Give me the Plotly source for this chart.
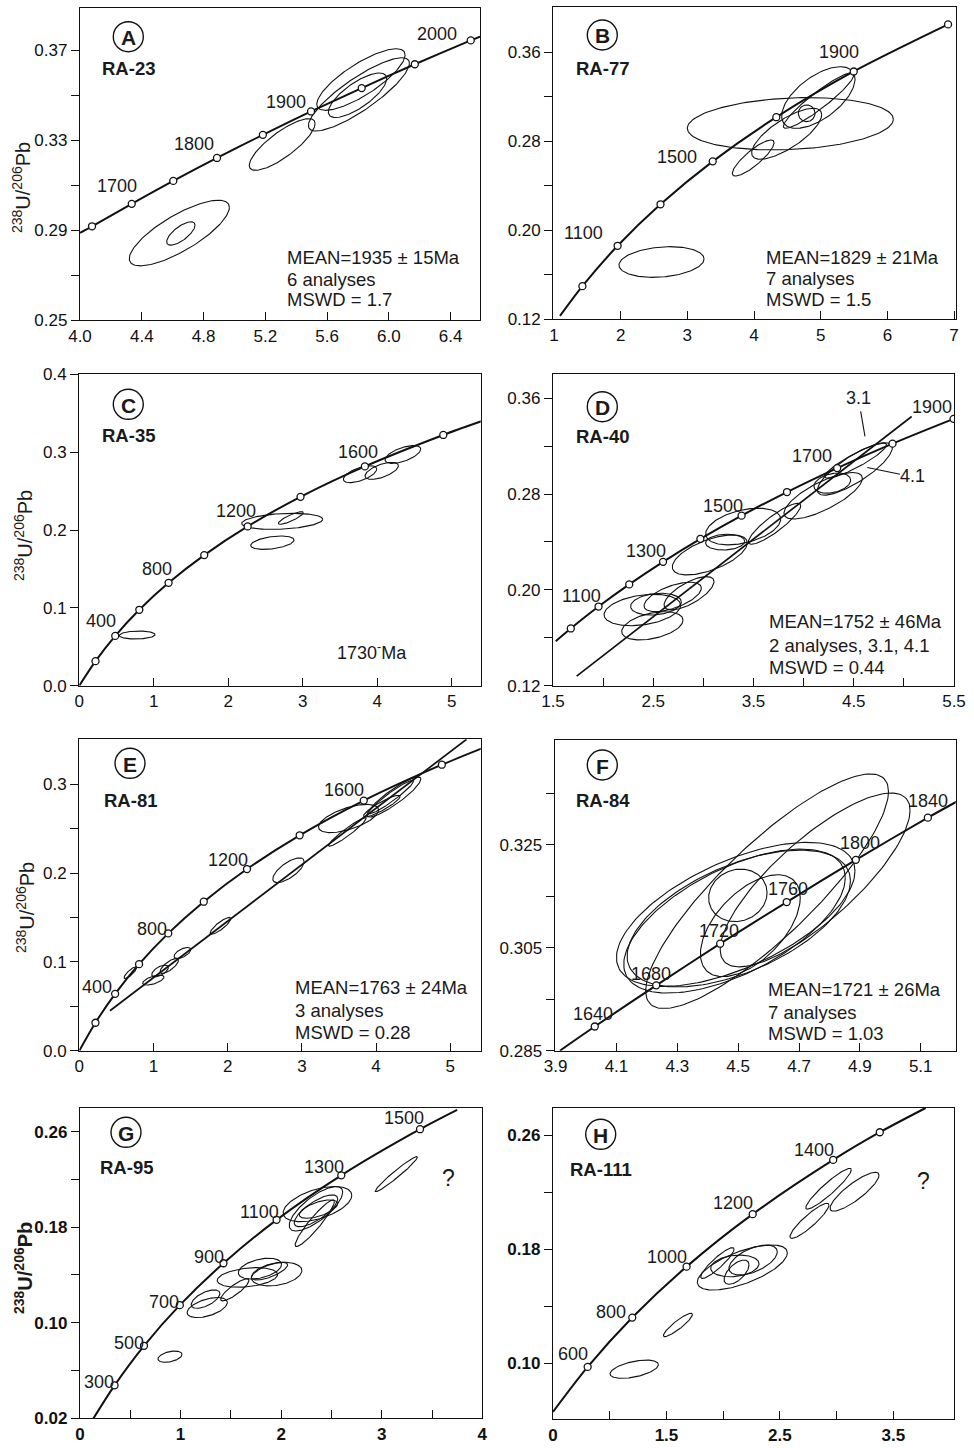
import numpy as np
import plotly.graph_objects as go

W, H = 974, 1448
FONT = "Liberation Sans, Arial, sans-serif"

# ---------------- DATA ----------------
# Concordia age marks (207Pb/235U, 206Pb/238U)
A_age = [1650, 1700, 1750, 1800, 1850, 1900, 1950, 2000, 2050]
A_cx = [4.078, 4.335, 4.604, 4.887, 5.184, 5.496, 5.824, 6.168, 6.530]
A_cy = [0.2917, 0.3017, 0.3119, 0.3221, 0.3324, 0.3428, 0.3532, 0.3638, 0.3744]
A_end = [(4.0, 0.2888), (6.59, 0.3761)]

B_age = [900, 1100, 1300, 1500, 1700, 1900, 2100]
B_cx = [1.4264, 1.9545, 2.5978, 3.3810, 4.3346, 5.4959, 6.9104]
B_cy = [0.1498, 0.1861, 0.2234, 0.2620, 0.3017, 0.3428, 0.3851]
B_end = [(1.09, 0.1230), (6.9104, 0.3851)]

C_age = [200, 400, 600, 800, 1000, 1200, 1400, 1600, 1800]
C_cx = [0.2177, 0.4828, 0.8056, 1.1987, 1.6774, 2.2603, 2.9700, 3.8341, 4.8867]
C_cy = [0.0315, 0.0640, 0.0975, 0.1321, 0.1678, 0.2046, 0.2426, 0.2817, 0.3221]
C_end = [(0.0, 0.0), (5.40, 0.3397)]

D_age = [1000, 1100, 1200, 1300, 1400, 1500, 1600, 1700, 1800, 1900]
D_cx = [1.6774, 1.9545, 2.2603, 2.5978, 2.9700, 3.3810, 3.8341, 4.3346, 4.8867, 5.4959]
D_cy = [0.1678, 0.1861, 0.2046, 0.2234, 0.2426, 0.2620, 0.2817, 0.3017, 0.3221, 0.3428]
D_end = [(1.527, 0.1572), (5.52, 0.3436)]
D_disc = [(1.736, 0.128), (5.078, 0.3448)]

E_age = [200, 400, 600, 800, 1000, 1200, 1400, 1600, 1800]
E_cx = [0.2177, 0.4828, 0.8056, 1.1987, 1.6774, 2.2603, 2.9700, 3.8341, 4.8867]
E_cy = [0.0315, 0.0640, 0.0975, 0.1321, 0.1678, 0.2046, 0.2426, 0.2817, 0.3221]
E_end = [(0.0, 0.0), (5.45, 0.3413)]
E_disc = [(0.413, 0.045), (5.22, 0.3507)]

F_age = [1640, 1680, 1720, 1760, 1800, 1840]
F_cx = [4.0287, 4.2307, 4.4409, 4.6596, 4.8867, 5.1235]
F_cy = [0.2897, 0.2977, 0.3058, 0.3139, 0.3221, 0.3303]
F_end = [(3.914, 0.2850), (5.23, 0.3338)]

G_age = [300, 500, 700, 900, 1100, 1300, 1500]
G_cx = [0.3437, 0.6363, 0.9925, 1.4264, 1.9545, 2.5978, 3.3810]
G_cy = [0.0476, 0.0807, 0.1147, 0.1498, 0.1861, 0.2234, 0.2620]
G_end = [(0.134, 0.0200), (3.75, 0.2782)]

H_age = [600, 800, 1000, 1200, 1400, 1500]
H_cx = [0.8056, 1.1987, 1.6774, 2.2603, 2.9700, 3.3810]
H_cy = [0.0975, 0.1321, 0.1678, 0.2046, 0.2426, 0.2620]
H_end = [(0.5, 0.0660), (3.785, 0.2790)]

# Error ellipses: (x centre, y centre, x half-width, y half-height, correlation)
A_ell = [(4.643, 0.2887, 0.324, 0.0146, 0.78), (4.653, 0.2885, 0.092, 0.0052, 0.71),
         (5.309, 0.3281, 0.213, 0.0115, 0.81), (5.819, 0.3570, 0.286, 0.0137, 0.80),
         (5.806, 0.3504, 0.327, 0.0163, 0.85), (5.797, 0.3500, 0.189, 0.0099, 0.75)]
B_ell = [(2.613, 0.1715, 0.638, 0.0138, 0.20), (4.545, 0.2958, 1.545, 0.0235, 0.17),
         (3.988, 0.2650, 0.313, 0.0162, 0.85), (4.490, 0.2868, 0.525, 0.0229, 0.75),
         (4.965, 0.3194, 0.550, 0.0277, 0.60), (4.970, 0.3167, 0.530, 0.0250, 0.93),
         (4.790, 0.3052, 0.125, 0.0075, 0.00)]
C_ell = [(0.777, 0.0651, 0.240, 0.0051, 0.10), (2.724, 0.2111, 0.544, 0.0103, 0.25),
         (2.840, 0.2154, 0.168, 0.0081, 0.85), (2.592, 0.1837, 0.291, 0.0086, 0.40),
         (3.769, 0.2717, 0.224, 0.0109, 0.60), (4.060, 0.2760, 0.224, 0.0109, 0.60),
         (4.344, 0.2970, 0.240, 0.0114, 0.60)]
D_ell = [(4.511, 0.3010, 0.374, 0.0219, 0.81), (4.519, 0.3079, 0.308, 0.0146, 0.90),
         (4.195, 0.2786, 0.391, 0.0194, 0.75), (4.286, 0.2891, 0.183, 0.0084, 0.30),
         (3.710, 0.2552, 0.261, 0.0171, 0.88), (3.397, 0.2529, 0.374, 0.0153, 0.40),
         (3.217, 0.2399, 0.195, 0.0066, 0.10), (3.064, 0.2292, 0.374, 0.0167, 0.60),
         (2.391, 0.1832, 0.382, 0.0131, 0.30), (2.491, 0.1700, 0.306, 0.0118, 0.40),
         (2.527, 0.1881, 0.253, 0.0091, 0.20), (2.857, 0.1972, 0.249, 0.0139, 0.70),
         (2.694, 0.1941, 0.286, 0.0123, 0.60)]
E_ell = [(0.688, 0.0879, 0.085, 0.0066, 0.85), (0.998, 0.0795, 0.144, 0.0056, 0.60),
         (1.088, 0.0898, 0.112, 0.0066, 0.60), (1.212, 0.0954, 0.124, 0.0084, 0.75),
         (1.389, 0.1100, 0.112, 0.0062, 0.60), (1.902, 0.1406, 0.139, 0.0094, 0.85),
         (2.819, 0.2032, 0.211, 0.0139, 0.70), (3.629, 0.2615, 0.405, 0.0159, 0.60),
         (3.613, 0.2463, 0.254, 0.0161, 0.95), (4.240, 0.2857, 0.364, 0.0225, 0.90),
         (4.202, 0.2857, 0.304, 0.0188, 0.95), (4.078, 0.2754, 0.247, 0.0122, 0.90)]
F_ell = [(4.595, 0.3160, 0.399, 0.0228, 0.85), (4.753, 0.3182, 0.312, 0.0169, 0.80),
         (4.492, 0.3115, 0.392, 0.0140, 0.60), (4.488, 0.3102, 0.364, 0.0140, 0.60),
         (4.502, 0.3107, 0.367, 0.0133, 0.55), (4.499, 0.3152, 0.096, 0.0051, 0.10),
         (4.540, 0.3093, 0.164, 0.0099, 0.55)]
G_ell = [(0.895, 0.0716, 0.120, 0.0047, 0.40), (1.265, 0.1127, 0.200, 0.0084, 0.50),
         (1.248, 0.1198, 0.143, 0.0077, 0.60), (1.539, 0.1275, 0.141, 0.0092, 0.85),
         (1.664, 0.1379, 0.300, 0.0082, 0.30), (1.789, 0.1453, 0.215, 0.0087, 0.40),
         (1.955, 0.1407, 0.251, 0.0099, 0.30), (1.884, 0.1432, 0.180, 0.0074, 0.70),
         (2.361, 0.1993, 0.341, 0.0147, 0.50), (2.346, 0.1954, 0.266, 0.0186, 0.75),
         (2.346, 0.1937, 0.216, 0.0133, 0.75), (2.371, 0.1951, 0.191, 0.0077, 0.60),
         (2.334, 0.1833, 0.195, 0.0195, 0.93), (3.145, 0.2244, 0.210, 0.0147, 0.97)]
H_ell = [(1.216, 0.0959, 0.213, 0.0064, 0.50), (1.601, 0.1269, 0.128, 0.0082, 0.90),
         (2.169, 0.1672, 0.397, 0.0158, 0.65), (1.949, 0.1703, 0.147, 0.0108, 0.90),
         (2.103, 0.1683, 0.213, 0.0076, 0.20), (2.118, 0.1639, 0.110, 0.0085, 0.60),
         (2.264, 0.1724, 0.213, 0.0105, 0.55), (2.761, 0.1999, 0.172, 0.0123, 0.90),
         (2.929, 0.2224, 0.201, 0.0143, 0.93), (3.158, 0.2203, 0.216, 0.0136, 0.85)]

# Age labels shown on the concordia
A_lab = ["1700", "1800", "1900", "2000"]
B_lab = ["1100", "1500", "1900"]
C_lab = ["400", "800", "1200", "1600"]
D_lab = ["1100", "1300", "1500", "1700", "1900"]
E_lab = ["400", "800", "1200", "1600"]
F_lab = ["1640", "1680", "1720", "1760", "1800", "1840"]
G_lab = ["300", "500", "700", "900", "1100", "1300", "1500"]
H_lab = ["600", "800", "1000", "1200", "1400"]

SAMPLES = ["RA-23", "RA-77", "RA-35", "RA-40", "RA-81", "RA-84", "RA-95", "RA-111"]
LETTERS = ["A", "B", "C", "D", "E", "F", "G", "H"]
A_stats = ["MEAN=1935 ± 15Ma", "6 analyses", "MSWD = 1.7"]
B_stats = ["MEAN=1829 ± 21Ma", "7 analyses", "MSWD = 1.5"]
D_stats = ["MEAN=1752 ± 46Ma", "2 analyses, 3.1, 4.1", "MSWD = 0.44"]
E_stats = ["MEAN=1763 ± 24Ma", "3 analyses", "MSWD = 0.28"]
F_stats = ["MEAN=1721 ± 26Ma", "7 analyses", "MSWD = 1.03"]

# axis ticks: (labelled values, label text, unlabelled minor values)
A_xt = ([4.0, 4.4, 4.8, 5.2, 5.6, 6.0, 6.4], ["4.0", "4.4", "4.8", "5.2", "5.6", "6.0", "6.4"], [])
B_xt = ([1, 2, 3, 4, 5, 6, 7], ["1", "2", "3", "4", "5", "6", "7"], [])
C_xt = ([0, 1, 2, 3, 4, 5], ["0", "1", "2", "3", "4", "5"], [])
D_xt = ([1.5, 2.5, 3.5, 4.5, 5.5], ["1.5", "2.5", "3.5", "4.5", "5.5"], [2.0, 3.0, 4.0, 5.0])
E_xt = ([0, 1, 2, 3, 4, 5], ["0", "1", "2", "3", "4", "5"], [])
F_xt = ([3.9, 4.1, 4.3, 4.5, 4.7, 4.9, 5.1], ["3.9", "4.1", "4.3", "4.5", "4.7", "4.9", "5.1"], [])
G_xt = ([0, 1, 2, 3, 4], ["0", "1", "2", "3", "4"], [0.5, 1.5, 2.5, 3.5])
H_xt = ([0.5, 1.5, 2.5, 3.5], ["0", "1.5", "2.5", "3.5"], [1.0, 2.0, 3.0])
A_yt = ([0.25, 0.29, 0.33, 0.37], ["0.25", "0.29", "0.33", "0.37"], [0.27, 0.31, 0.35])
B_yt = ([0.12, 0.20, 0.28, 0.36], ["0.12", "0.20", "0.28", "0.36"], [0.16, 0.24, 0.32])
C_yt = ([0, 0.1, 0.2, 0.3, 0.4], ["0.0", "0.1", "0.2", "0.3", "0.4"], [])
D_yt = ([0.12, 0.20, 0.28, 0.36], ["0.12", "0.20", "0.28", "0.36"], [0.16, 0.24, 0.32])
E_yt = ([0, 0.1, 0.2, 0.3], ["0.0", "0.1", "0.2", "0.3"], [0.05, 0.15, 0.25])
F_yt = ([0.285, 0.305, 0.325], ["0.285", "0.305", "0.325"], [0.295, 0.315, 0.335])
G_yt = ([0.02, 0.10, 0.18, 0.26], ["0.02", "0.10", "0.18", "0.26"], [0.06, 0.14, 0.22])
H_yt = ([0.10, 0.18, 0.26], ["0.10", "0.18", "0.26"], [0.14, 0.22])

# ---------------- FIGURE ----------------
fig = go.Figure()

def px2paper(x, y):
    return x / W, 1 - y / H

def ids(i):
    return ("x" if i == 1 else f"x{i}"), ("y" if i == 1 else f"y{i}")

def ellipse(e):
    cx, cy, sx, sy, r = e
    t = np.linspace(0, 2 * np.pi, 160)
    return cx + sx * np.cos(t), cy + sy * (r * np.cos(t) + np.sqrt(1 - r * r) * np.sin(t))

panels = [
    (A_cx, A_cy, A_end, A_ell, None),
    (B_cx, B_cy, B_end, B_ell, None),
    (C_cx, C_cy, C_end, C_ell, None),
    (D_cx, D_cy, D_end, D_ell, D_disc),
    (E_cx, E_cy, E_end, E_ell, E_disc),
    (F_cx, F_cy, F_end, F_ell, None),
    (G_cx, G_cy, G_end, G_ell, None),
    (H_cx, H_cy, H_end, H_ell, None),
]

for i, (cx, cy, end, ells, disc) in enumerate(panels, start=1):
    xa, ya = ids(i)
    for e in ells:
        ex, ey = ellipse(e)
        fig.add_trace(go.Scatter(x=ex, y=ey, mode="lines", xaxis=xa, yaxis=ya,
                                 line=dict(color="#111", width=1.1), hoverinfo="skip",
                                 showlegend=False))
    if disc:
        fig.add_trace(go.Scatter(x=[p[0] for p in disc], y=[p[1] for p in disc], mode="lines",
                                 xaxis=xa, yaxis=ya, line=dict(color="#111", width=1.7),
                                 hoverinfo="skip", showlegend=False))
    lx = [end[0][0]] + list(cx) + [end[1][0]]
    ly = [end[0][1]] + list(cy) + [end[1][1]]
    fig.add_trace(go.Scatter(x=lx, y=ly, mode="lines", xaxis=xa, yaxis=ya,
                             line=dict(color="#111", width=2.0, shape="spline", smoothing=0.8),
                             hoverinfo="skip", showlegend=False))
    fig.add_trace(go.Scatter(x=cx, y=cy, mode="markers", xaxis=xa, yaxis=ya,
                             marker=dict(symbol="circle", size=7, color="white",
                                         line=dict(color="#111", width=1.3)),
                             hoverinfo="skip", showlegend=False))

# panel frames in pixels: (left, top, right, bottom)
boxes = [(80, 8.3, 480, 320), (553.3, 7.3, 955.7, 319.3),
         (79.3, 374.3, 480.7, 685.7), (553, 374.3, 954, 685.7),
         (79.3, 739.3, 480.7, 1050.7), (554.7, 740, 955.7, 1050.7),
         (80, 1107.7, 482.3, 1418.3), (553, 1107.7, 954, 1419)]

xr = [[4.0, 6.59], [0.99, 7.025], [0, 5.389], [1.5, 5.5], [0, 5.41], [3.897, 5.215], [0, 4.0], [0.5, 4.035]]
yr = [[0.25, 0.3887], [0.12, 0.4005], [0, 0.4], [0.12, 0.38], [0, 0.3507], [0.285, 0.3454], [0.02, 0.28], [0.061, 0.2792]]
xts = [A_xt, B_xt, C_xt, D_xt, E_xt, F_xt, G_xt, H_xt]
yts = [A_yt, B_yt, C_yt, D_yt, E_yt, F_yt, G_yt, H_yt]

layout = dict(width=W, height=H, margin=dict(l=0, r=0, t=0, b=0, pad=0), autosize=False,
              paper_bgcolor="white", plot_bgcolor="white", showlegend=False)

for i in range(1, 9):
    l, t, r, b = boxes[i - 1]
    bold = i >= 7
    tf = dict(family=FONT, size=17, color="#111", weight="bold" if bold else "normal")
    common = dict(showline=True, linecolor="#111", linewidth=1.3, mirror=True, showgrid=False,
                  zeroline=False, tickwidth=1.2, tickcolor="#111", ticklen=8, fixedrange=True,
                  tickfont=tf, tickmode="array", automargin=False)
    xa, ya = ids(i)
    xv, xtx, xmin = xts[i - 1]
    yv, ytx, ymin = yts[i - 1]
    layout["xaxis" if i == 1 else f"xaxis{i}"] = dict(
        domain=[l / W, r / W], range=xr[i - 1], anchor=ya, ticks="inside",
        tickvals=xv, ticktext=xtx,
        minor=dict(tickmode="array", tickvals=xmin, ticks="inside", ticklen=8,
                   tickwidth=1.2, tickcolor="#111", showgrid=False),
        **common)
    layout["yaxis" if i == 1 else f"yaxis{i}"] = dict(
        domain=[1 - b / H, 1 - t / H], range=yr[i - 1], anchor=xa, ticks="outside",
        tickvals=yv, ticktext=ytx,
        minor=dict(tickmode="array", tickvals=ymin, ticks="outside", ticklen=8,
                   tickwidth=1.2, tickcolor="#111", showgrid=False),
        **common)

fig.update_layout(**layout)

ann = []
shapes = []

def data_text(i, x, y, text, size=18):
    xa, ya = ids(i)
    ann.append(dict(x=x, y=y, xref=xa, yref=ya, text=text, showarrow=False,
                    font=dict(family=FONT, size=size, color="#1a1a1a")))

def paper_text(px, py, text, size=18, bold=False, xanchor="center", angle=0):
    x, y = px2paper(px, py)
    ann.append(dict(x=x, y=y, xref="paper", yref="paper", text=text, showarrow=False,
                    xanchor=xanchor, yanchor="middle", textangle=angle,
                    font=dict(family=FONT, size=size, color="#1a1a1a",
                              weight="bold" if bold else "normal")))

# concordia age labels (positions)
lab_pos = {
    1: [(4.242, 0.3097), (4.740, 0.3285), (5.332, 0.3470), (6.31, 0.3774)],
    2: [(1.44, 0.1973), (2.85, 0.2662), (5.275, 0.3606)],
    3: [(0.291, 0.0831), (1.047, 0.1499), (2.104, 0.2248), (3.747, 0.3006)],
    4: [(1.786, 0.1952), (2.424, 0.2328), (3.196, 0.2704), (4.087, 0.3114), (5.284, 0.3526)],
    5: [(0.243, 0.0712), (0.976, 0.1376), (2.010, 0.2145), (3.570, 0.2932)],
    6: [(4.024, 0.2921), (4.212, 0.3000), (4.436, 0.3083), (4.6626, 0.3164), (4.901, 0.3253), (5.1254, 0.3336)],
    7: [(0.19, 0.0501), (0.483, 0.0828), (0.832, 0.1171), (1.281, 0.1554), (1.787, 0.1925), (2.429, 0.2307), (3.218, 0.2712)],
    8: [(0.679, 0.1063), (1.008, 0.1357), (1.502, 0.1747), (2.09, 0.2121), (2.801, 0.2495)],
}
labs = [A_lab, B_lab, C_lab, D_lab, E_lab, F_lab, G_lab, H_lab]
for i in range(1, 9):
    for (x, y), s in zip(lab_pos[i], labs[i - 1]):
        data_text(i, x, y, s)

# extra labels
data_text(3, 3.93, 0.0437, "1730<sup>-</sup>Ma")
data_text(4, 4.552, 0.3601, "3.1")
data_text(4, 5.084, 0.2955, "4.1")
data_text(7, 3.66, 0.221, "?", size=23)
data_text(8, 3.765, 0.2278, "?", size=23)
shapes.append(dict(type="line", xref="x4", yref="y4", x0=4.569, y0=0.349, x1=4.612, y1=0.3281,
                   line=dict(color="#111", width=1.1)))
shapes.append(dict(type="line", xref="x4", yref="y4", x0=4.635, y0=0.3022, x1=4.961, y1=0.2966,
                   line=dict(color="#111", width=1.1)))

# panel letters and sample names
circ = [(128.3, 36.7), (602.3, 35), (128.3, 404.3), (602.3, 406.7),
        (130, 763.3), (602.3, 765), (126, 1132.3), (600.7, 1134.3)]
name = [(128, 68), (602, 68), (128, 435), (602, 436.7), (130, 800), (603, 800), (126.7, 1167.7), (600.7, 1169.3)]
for k in range(8):
    cxp, cyp = circ[k]
    x0, y1 = px2paper(cxp - 15, cyp - 15)
    x1, y0 = px2paper(cxp + 15, cyp + 15)
    shapes.append(dict(type="circle", xref="paper", yref="paper", x0=x0, y0=y0, x1=x1, y1=y1,
                       line=dict(color="#111", width=1.4)))
    paper_text(cxp, cyp + 1, LETTERS[k], size=21, bold=True)
    paper_text(name[k][0], name[k][1], SAMPLES[k], size=18.5, bold=True)

# statistics blocks
stats = [(285, [258, 279, 300], A_stats), (764, [257, 278, 300], B_stats),
         (767, [622, 645, 667], D_stats), (293, [987, 1010, 1032], E_stats),
         (766, [990, 1012, 1033], F_stats)]
for px, ys, lines in stats:
    for py, s in zip(ys, lines):
        paper_text(px, py, s, size=18.5, xanchor="left")

# y-axis titles
ytitle = "<sup>238</sup>U/<sup>206</sup>Pb"
paper_text(22, 188, ytitle, size=20, angle=-90)
paper_text(23, 536, ytitle, size=20, angle=-90)
paper_text(25, 908, ytitle, size=20, angle=-90)
paper_text(23, 1268, "<b>" + ytitle + "</b>", size=20, angle=-90, bold=True)

fig.update_layout(annotations=ann, shapes=shapes)
fig.write_html("out.html", config={"displayModeBar": False},
               post_script="document.body.style.margin='0';document.body.style.overflow='hidden';")
